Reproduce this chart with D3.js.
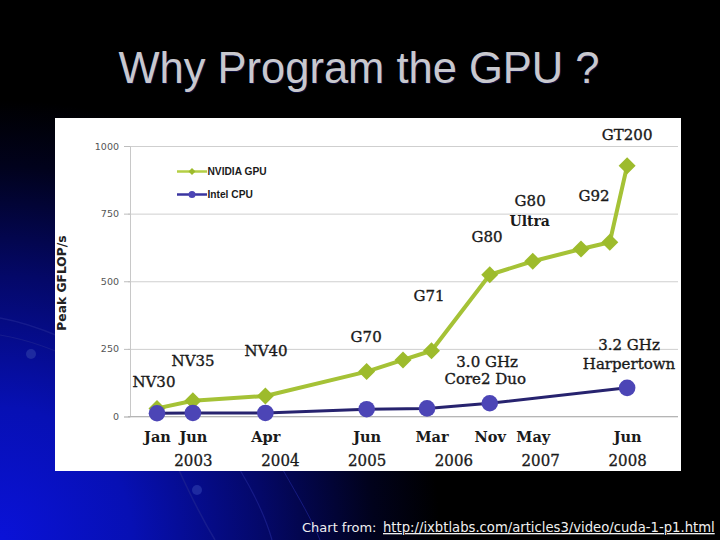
<!DOCTYPE html>
<html><head><meta charset="utf-8">
<script src="https://cdn.jsdelivr.net/npm/d3@7"></script>
<style>
html,body{margin:0;padding:0;background:#000;}
svg{display:block;}
</style></head>
<body>
<svg id="c" width="720" height="540"></svg>
<script>
// ---- data ----
const gpuDates  = ["2003-01-01","2003-06-01","2004-04-01","2005-06-01","2005-11-01","2006-03-01","2006-11-01","2007-05-01","2007-11-20","2008-03-20","2008-06-01"];
const gpuValues = [30, 58, 76, 166, 209, 243, 524, 574, 619, 644, 927];
const cpuDates  = ["2003-01-01","2003-06-01","2004-04-01","2005-06-01","2006-02-10","2006-11-01","2008-06-01"];
const cpuValues = [12, 13, 13, 27, 30, 49, 106];
const seriesNames = ["NVIDIA GPU", "Intel CPU"];
const yTicks = [0, 250, 500, 750, 1000];
const monthTickDates = ["2003-01-01","2003-06-01","2004-04-01","2005-06-01","2006-03-01","2006-11-01","2007-05-01","2008-06-01"];
const monthTickLabels = ["Jan","Jun","Apr","Jun","Mar","Nov","May","Jun"];
const yearTickDates = ["2003-06-01","2004-06-01","2005-06-01","2006-06-01","2007-06-01","2008-06-01"];
const yearTickLabels = ["2003","2004","2005","2006","2007","2008"];
// annotation labels, located in data coordinates
const annoText  = ["NV30","NV35","NV40","G70","G71","G80","G80","Ultra","G92","GT200","3.0 GHz","Core2 Duo","3.2 GHz","Harpertown"];
const annoDates = ["2002-12-19","2003-06-02","2004-04-04","2005-05-30","2006-02-19","2006-10-21","2007-04-20","2007-04-18","2008-01-14","2008-06-01","2006-10-21","2006-10-13","2008-06-09","2008-06-09"];
const annoValues= [109, 186, 223, 275, 427, 645, 779, 704, 797, 1022, 183, 120, 246, 176];
const annoBold  = [false,false,false,false,false,false,false,true,false,false,false,false,false,false];

const parse = d3.timeParse("%Y-%m-%d");
const svg = d3.select("#c");
const defs = svg.append("defs");

// ---- background ----
const rg = defs.append("radialGradient").attr("id","bg").attr("gradientUnits","userSpaceOnUse")
  .attr("cx",0).attr("cy",540).attr("r",440);
rg.append("stop").attr("offset","0").attr("stop-color","#0a12d8");
rg.append("stop").attr("offset","0.3").attr("stop-color","#0710b4");
rg.append("stop").attr("offset","0.6").attr("stop-color","#040868");
rg.append("stop").attr("offset","0.85").attr("stop-color","#01021c");
rg.append("stop").attr("offset","1").attr("stop-color","#000000");
svg.append("rect").attr("width",720).attr("height",540).attr("fill","#000");
svg.append("rect").attr("width",720).attr("height",540).attr("fill","url(#bg)");
// decorative swooshes
const deco = svg.append("g").attr("fill","none").attr("stroke","#1c2290").attr("stroke-opacity",0.75);
deco.append("path").attr("d","M0,318 C40,325 80,345 130,370").attr("stroke-width",1.5);
deco.append("path").attr("d","M0,335 C30,340 55,350 80,362").attr("stroke-width",1);
deco.append("path").attr("d","M178,468 C188,490 200,515 215,540").attr("stroke-width",1.5);
deco.append("path").attr("d","M240,470 C255,495 265,515 272,540").attr("stroke-width",1.2);
deco.append("path").attr("d","M283,470 C300,500 312,520 320,540").attr("stroke-width",1);
svg.append("circle").attr("cx",31).attr("cy",354).attr("r",5).attr("fill","#1e2aa0");
svg.append("circle").attr("cx",197).attr("cy",490).attr("r",5).attr("fill","#1e2aa0");

// ---- title ----
svg.append("text").attr("x",359).attr("y",83).attr("text-anchor","middle")
  .attr("font-family","Liberation Sans, Arial, sans-serif").attr("font-size",43.5)
  .attr("fill","#0c0e3a").attr("dx",1).attr("dy",1).text("Why Program the GPU ?");
svg.append("text").attr("x",359).attr("y",83).attr("text-anchor","middle")
  .attr("font-family","Liberation Sans, Arial, sans-serif").attr("font-size",43.5)
  .attr("fill","#c8c8ce").text("Why Program the GPU ?");

// ---- chart panel ----
svg.append("rect").attr("x",55).attr("y",118).attr("width",626).attr("height",353).attr("fill","#fff");

const x = d3.scaleTime().domain([parse("2002-09-01"), parse("2009-01-01")]).range([128, 678]);
const y = d3.scaleLinear().domain([0, 1000]).range([416.5, 146]);

// gridlines
const grid = svg.append("g").attr("transform","translate(128,0)")
  .call(d3.axisLeft(y).tickValues(yTicks).tickSize(-550).tickFormat(""));
grid.select(".domain").remove();
grid.selectAll(".tick line").attr("stroke","#cfcfcf").attr("stroke-width",1);

// y axis
const yAx = svg.append("g").attr("transform","translate(130,0)")
  .call(d3.axisLeft(y).tickValues(yTicks).tickSize(6).tickPadding(5).tickFormat(d3.format("d")));
yAx.select(".domain").attr("stroke","#c8c8c8");
yAx.selectAll(".tick line").attr("stroke","#bdbdbd");
yAx.selectAll(".tick text").attr("font-family","DejaVu Sans, sans-serif").attr("font-size",9.5).attr("fill","#555");

// x axis line
svg.append("line").attr("x1",128).attr("x2",678).attr("y1",y(0)).attr("y2",y(0)).attr("stroke","#b5b5b5").attr("stroke-width",1.2);

// month axis
const mAx = svg.append("g").attr("transform",`translate(0,${y(0)})`)
  .call(d3.axisBottom(x).tickValues(monthTickDates.map(parse)).tickSize(0).tickPadding(25)
    .tickFormat((d,i)=>monthTickLabels[i]));
mAx.select(".domain").remove();
mAx.selectAll(".tick text").attr("font-family","DejaVu Serif, serif").attr("font-weight","bold")
  .attr("font-size",14.5).attr("fill","#1a1a1a").attr("dy","0");
// year axis
const yrAx = svg.append("g").attr("transform",`translate(0,${y(0)})`)
  .call(d3.axisBottom(x).tickValues(yearTickDates.map(parse)).tickSize(0).tickPadding(43)
    .tickFormat((d,i)=>yearTickLabels[i]));
yrAx.select(".domain").remove();
yrAx.selectAll(".tick text").attr("font-family","DejaVu Serif, serif")
  .attr("font-size",15).attr("fill","#1a1a1a").attr("stroke","#1a1a1a").attr("stroke-width",0.3)
  .attr("dy","0").attr("transform","scale(1,1.15)").attr("transform-origin","0 0");

// y title
svg.append("text").attr("transform","translate(66,283) rotate(-90)").attr("text-anchor","middle")
  .attr("font-family","DejaVu Sans, sans-serif").attr("font-weight","bold").attr("font-size",12.3)
  .attr("fill","#222").text("Peak GFLOP/s");

// ---- series ----
const gpu = gpuDates.map((d,i)=>({x:parse(d), v:gpuValues[i]}));
const cpu = cpuDates.map((d,i)=>({x:parse(d), v:cpuValues[i]}));
const line = d3.line().x(d=>x(d.x)).y(d=>y(d.v));
const GPU_COL = "#9dbb2c", GPU_LINE = "#a5c236", CPU_COL = "#4c45b6", CPU_LINE = "#27236f";
const diamond = s => `M0,${-s}L${s},0L0,${s}L${-s},0Z`;

svg.append("path").datum(gpu).attr("d",line).attr("fill","none").attr("stroke",GPU_LINE).attr("stroke-width",4).attr("stroke-linejoin","round");
svg.append("g").selectAll("path").data(gpu).join("path")
  .attr("transform",d=>`translate(${x(d.x)},${y(d.v)})`).attr("d",diamond(8.5)).attr("fill",GPU_COL);

svg.append("path").datum(cpu).attr("d",line).attr("fill","none").attr("stroke",CPU_LINE).attr("stroke-width",3);
svg.append("g").selectAll("circle").data(cpu).join("circle")
  .attr("cx",d=>x(d.x)).attr("cy",d=>y(d.v)).attr("r",8.3).attr("fill",CPU_COL);

// ---- legend ----
const lg = svg.append("g");
[[GPU_LINE,GPU_COL,"d"],[CPU_LINE,CPU_COL,"c"]].forEach((c,i)=>{
  const ly = 171.5 + i*23;
  lg.append("line").attr("x1",177).attr("x2",207).attr("y1",ly).attr("y2",ly).attr("stroke",i?"#3a35a0":"#b5cf45").attr("stroke-width",2.5);
  if(c[2]==="d") lg.append("path").attr("transform",`translate(192,${ly})`).attr("d",diamond(3.5)).attr("fill",c[1]);
  else lg.append("circle").attr("cx",192).attr("cy",ly).attr("r",3.5).attr("fill",c[1]);
  lg.append("text").attr("x",207.5).attr("y",ly+3.6).attr("font-family","Liberation Sans, Arial, sans-serif")
    .attr("font-weight","bold").attr("font-size",10.2).attr("fill","#1a1a1a").text(seriesNames[i]);
});

// ---- annotations ----
svg.append("g").selectAll("text").data(annoText).join("text")
  .attr("x",(d,i)=>x(parse(annoDates[i]))).attr("y",(d,i)=>y(annoValues[i]))
  .attr("text-anchor","middle").attr("font-family","DejaVu Serif, serif")
  .attr("font-size",(d,i)=>annoBold[i]?14:15).attr("font-weight",(d,i)=>annoBold[i]?"bold":"normal")
  .attr("fill","#1a1a1a").attr("stroke","#1a1a1a").attr("stroke-width",(d,i)=>annoBold[i]?0:0.35)
  .text(d=>d);

// ---- footer ----
svg.append("text").attr("x",302).attr("y",532).attr("font-family","DejaVu Sans, sans-serif").attr("font-size",13)
  .attr("fill","#f0f0f0").text("Chart from:");
svg.append("text").attr("x",383).attr("y",532).attr("font-family","DejaVu Sans, sans-serif").attr("font-size",13.2)
  .attr("fill","#f0f0f0").attr("text-decoration","underline").text("http://ixbtlabs.com/articles3/video/cuda-1-p1.html");
</script>
</body></html>
